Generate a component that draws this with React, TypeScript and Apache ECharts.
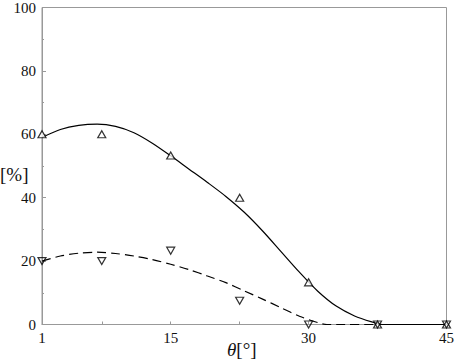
import React, { useEffect, useRef } from "react";
import * as echarts from "echarts";

// measured points
const thetaPoints = [1, 7.5, 15, 22.5, 30, 37.5, 45];
const upValues = [60, 60, 53.3, 40, 13.3, 0, 0];
const downValues = [20, 20, 23.3, 7.5, 0, 0, 0];

// fitted curves
const solidX = [1, 3, 5, 7, 9, 11, 13, 15, 17, 19, 21, 23, 25, 27, 29, 31, 33, 35, 37, 38, 45];
const solidY = [59, 61.5, 62.8, 63.2, 62.5, 60.5, 57.2, 53.2, 49.0, 44.8, 40.4, 35.4, 29.5, 23, 16.5, 10.5, 5.8, 2.7, 0.7, 0, 0];
const dashedX = [1, 3, 5, 7, 9, 11, 13, 15, 17, 19, 21, 23, 25, 27, 29, 31, 32, 45];
const dashedY = [20, 21.6, 22.5, 22.8, 22.4, 21.6, 20.5, 19.0, 17.3, 15.3, 13.2, 10.6, 8.0, 5.3, 2.6, 0.6, 0, 0];

const xLabelValues = [1, 15, 30, 45];
const xTickValues = [1, 7.5, 15, 22.5, 30, 37.5, 45];
const yLabelValues = [0, 20, 40, 60, 80, 100];

const FONT = "'Times New Roman', 'Liberation Serif', serif";

export default function App() {
  const ref = useRef<HTMLDivElement>(null);
  useEffect(() => {
    if (!ref.current) return;
    const chart = echarts.init(ref.current, null, { renderer: "svg" });
    const zip = (xs: number[], ys: number[]) => xs.map((x, i) => [x, ys[i]]);
    chart.setOption({
      animation: false,
      textStyle: { fontFamily: FONT },
      grid: {
        left: 42,
        right: 6,
        top: 3,
        bottom: 39.5,
        show: true,
        borderColor: "#999",
        borderWidth: 1,
      },
      xAxis: {
        type: "value",
        min: 1,
        max: 45,
        axisLine: { show: true, lineStyle: { color: "#999", width: 1 } },
        axisTick: {
          show: true,
          inside: true,
          length: 3,
          customValues: xTickValues,
          lineStyle: { color: "#999" },
        },
        axisLabel: {
          customValues: xLabelValues,
          color: "#111",
          fontFamily: FONT,
          fontSize: 15,
          margin: 6,
        },
        splitLine: { show: false },
      },
      yAxis: {
        type: "value",
        min: 0,
        max: 100,
        interval: 20,
        axisLine: { show: true, lineStyle: { color: "#999", width: 1 } },
        axisTick: { show: true, inside: true, length: 4, lineStyle: { color: "#999" } },
        minorTick: { show: true, splitNumber: 2, length: 2, lineStyle: { color: "#999" } },
        axisLabel: {
          customValues: yLabelValues,
          color: "#111",
          fontFamily: FONT,
          fontSize: 15,
          margin: 6,
        },
        splitLine: { show: false },
      },
      graphic: [
        {
          type: "text",
          left: 0,
          top: 165,
          style: {
            text: "[%]",
            font: `19px ${FONT}`,
            fill: "#111",
          },
        },
        {
          type: "text",
          left: 227,
          top: 340,
          style: {
            text: "{i|θ}{n|[°]}",
            rich: {
              i: { fontFamily: FONT, fontSize: 19, fontStyle: "italic", fill: "#111" },
              n: { fontFamily: FONT, fontSize: 19, fill: "#111" },
            },
          },
        },
      ],
      series: [
        {
          type: "line",
          data: zip(solidX, solidY),
          showSymbol: false,
          smooth: 0.3,
          lineStyle: { color: "#000", width: 1.2 },
          z: 2,
        },
        {
          type: "line",
          data: zip(dashedX, dashedY),
          showSymbol: false,
          smooth: 0.3,
          lineStyle: { color: "#000", width: 1.2, type: [9, 5] },
          z: 2,
        },
        {
          type: "scatter",
          data: zip(thetaPoints, upValues),
          symbol: "triangle",
          symbolSize: [8, 7],
          itemStyle: { color: "#fff", borderColor: "#000", borderWidth: 1.2 },
          clip: false,
          z: 3,
        },
        {
          type: "scatter",
          data: zip(thetaPoints, downValues),
          symbol: "triangle",
          symbolRotate: 180,
          symbolSize: [8, 7],
          itemStyle: { color: "rgba(255,255,255,0)", borderColor: "#000", borderWidth: 1.2 },
          clip: false,
          z: 4,
        },
      ],
    });
    return () => chart.dispose();
  }, []);
  return (
    <div
      ref={ref}
      style={{ position: "fixed", left: 0, top: 0, width: 457, height: 364, background: "#fff" }}
    />
  );
}
